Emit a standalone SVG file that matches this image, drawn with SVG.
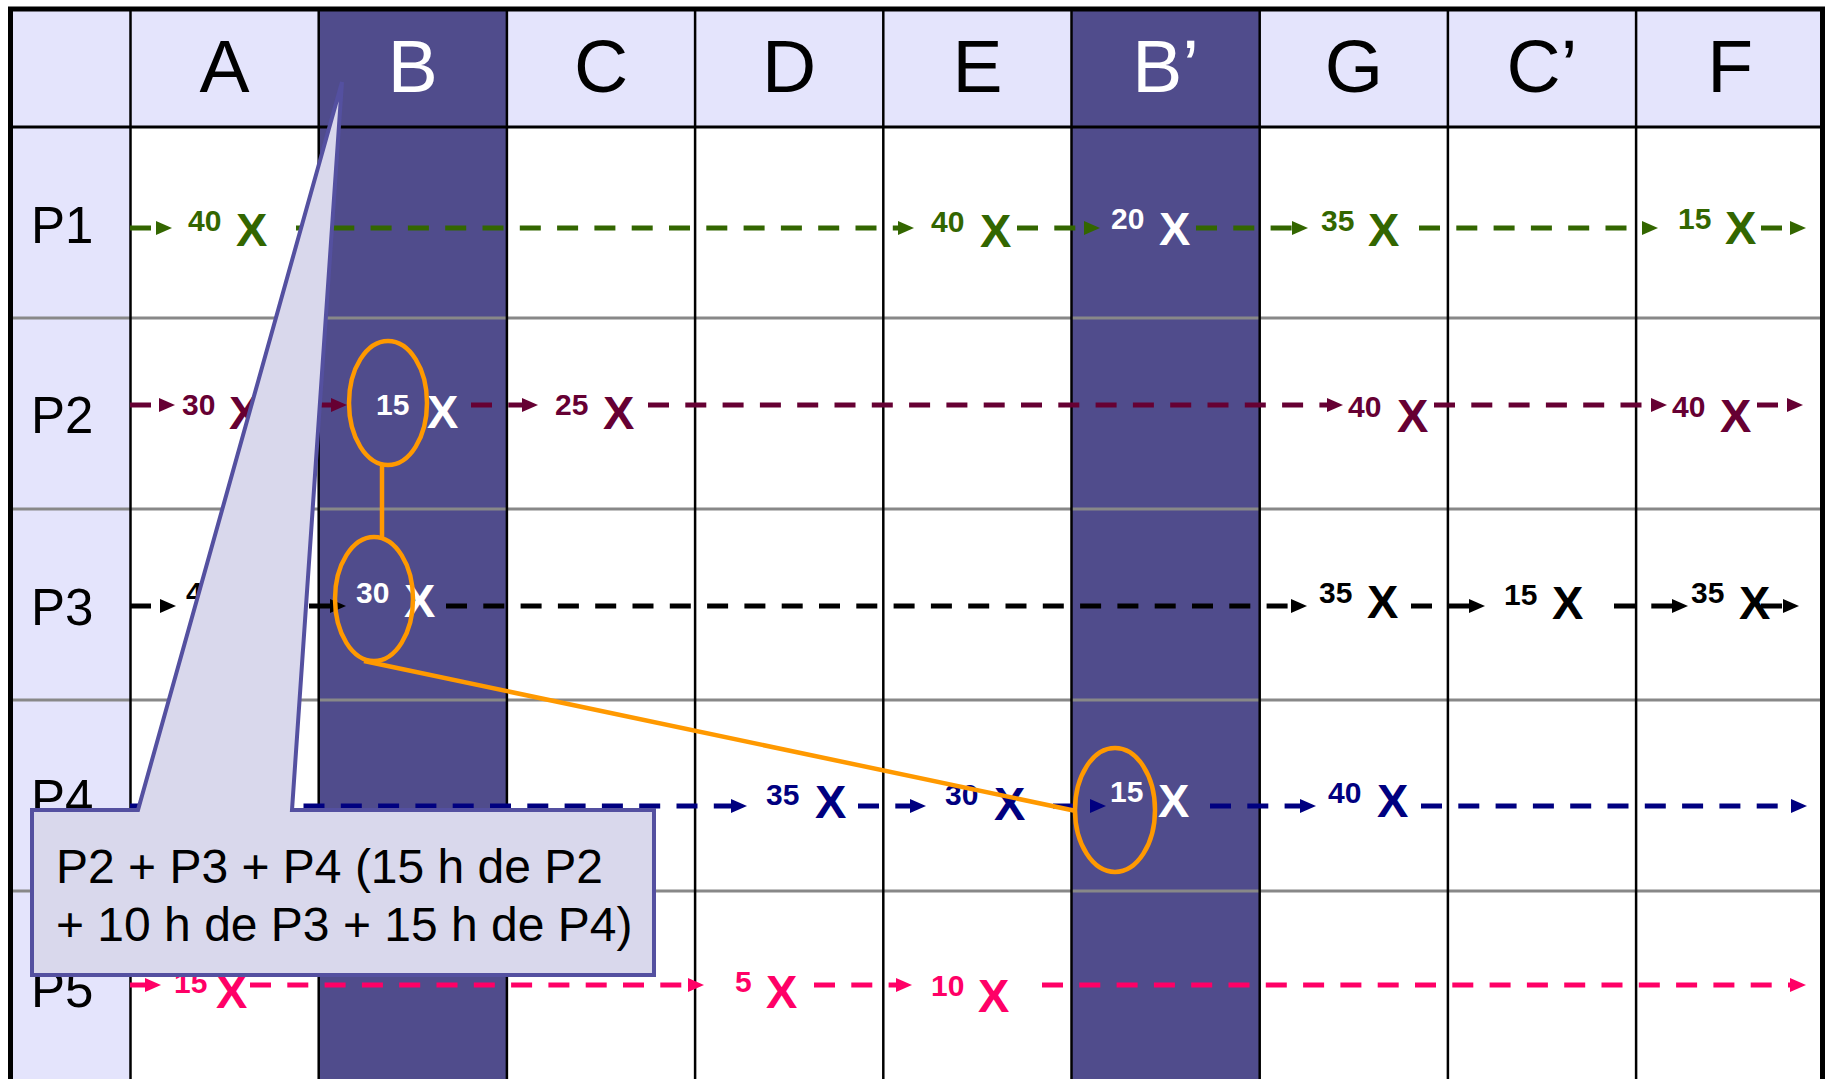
<svg xmlns="http://www.w3.org/2000/svg" width="1825" height="1079" viewBox="0 0 1825 1079">
<style>
.t{font-family:"Liberation Sans",Arial,Helvetica,sans-serif}
.hd{font-size:75px;text-anchor:middle}
.rl{font-size:51px;fill:#000}
.n{font-size:30px;font-weight:bold}
.x{font-size:47px;font-weight:bold}
.vl{stroke:#000;stroke-width:2.5}
.hl{stroke:#888;stroke-width:2.8}
.seg{fill:none;stroke-width:5;stroke-dasharray:21 16.3}
.g{stroke:#336600}.m{stroke:#660033}.k{stroke:#000}.nv{stroke:#000080}.p{stroke:#FF0066}
.fg{fill:#336600}.fm{fill:#660033}.fk{fill:#000}.fn{fill:#000080}.fp{fill:#FF0066}.fw{fill:#fff}
.or{fill:none;stroke:#FF9900;stroke-width:4.5}
.co{fill:#D9D8EC;stroke:#5450A0;stroke-width:4}
.ct{font-size:48px;fill:#000}
</style>
<defs>
<marker id="ag" markerUnits="userSpaceOnUse" markerWidth="16" markerHeight="14" refX="0" refY="7" orient="auto" viewBox="0 0 16 14"><path d="M0,0L16,7L0,14z" fill="#336600"/></marker>
<marker id="am" markerUnits="userSpaceOnUse" markerWidth="16" markerHeight="14" refX="0" refY="7" orient="auto" viewBox="0 0 16 14"><path d="M0,0L16,7L0,14z" fill="#660033"/></marker>
<marker id="ak" markerUnits="userSpaceOnUse" markerWidth="16" markerHeight="14" refX="0" refY="7" orient="auto" viewBox="0 0 16 14"><path d="M0,0L16,7L0,14z" fill="#000"/></marker>
<marker id="an" markerUnits="userSpaceOnUse" markerWidth="16" markerHeight="14" refX="0" refY="7" orient="auto" viewBox="0 0 16 14"><path d="M0,0L16,7L0,14z" fill="#000080"/></marker>
<marker id="ap" markerUnits="userSpaceOnUse" markerWidth="16" markerHeight="14" refX="0" refY="7" orient="auto" viewBox="0 0 16 14"><path d="M0,0L16,7L0,14z" fill="#FF0066"/></marker>
</defs>
<rect width="1825" height="1079" fill="#fff"/>
<g id="grid">
<rect x="10" y="9" width="1815" height="1075" fill="#fff"/>
<rect x="10" y="9" width="1815" height="118" fill="#E4E4FC"/>
<rect x="10" y="9" width="120.5" height="1075" fill="#E4E4FC"/>
<rect x="318.7" y="9" width="188.2" height="1075" fill="#504C8C"/>
<rect x="1071.5" y="9" width="188.2" height="1075" fill="#504C8C"/>
<line class="hl" x1="10" y1="318" x2="1825" y2="318"/>
<line class="hl" x1="10" y1="509" x2="1825" y2="509"/>
<line class="hl" x1="10" y1="700" x2="1825" y2="700"/>
<line class="hl" x1="10" y1="891" x2="1825" y2="891"/>
<line class="vl" x1="130.5" y1="9" x2="130.5" y2="1079"/>
<line class="vl" x1="318.7" y1="9" x2="318.7" y2="1079"/>
<line class="vl" x1="506.9" y1="9" x2="506.9" y2="1079"/>
<line class="vl" x1="695.1" y1="9" x2="695.1" y2="1079"/>
<line class="vl" x1="883.3" y1="9" x2="883.3" y2="1079"/>
<line class="vl" x1="1071.5" y1="9" x2="1071.5" y2="1079"/>
<line class="vl" x1="1259.7" y1="9" x2="1259.7" y2="1079"/>
<line class="vl" x1="1447.9" y1="9" x2="1447.9" y2="1079"/>
<line class="vl" x1="1636.1" y1="9" x2="1636.1" y2="1079"/>
<line x1="10" y1="127" x2="1825" y2="127" stroke="#000" stroke-width="3"/>
<rect x="10.5" y="9" width="1812" height="1080" fill="none" stroke="#000" stroke-width="5"/>
</g>
<g id="headers" class="t hd">
<text x="224.6" y="92" fill="#000">A</text>
<text x="412.8" y="92" fill="#fff">B</text>
<text x="601" y="92" fill="#000">C</text>
<text x="789.2" y="92" fill="#000">D</text>
<text x="977.4" y="92" fill="#000">E</text>
<text x="1165.6" y="92" fill="#fff">B’</text>
<text x="1353.8" y="92" fill="#000">G</text>
<text x="1542" y="92" fill="#000">C’</text>
<text x="1730.2" y="92" fill="#000">F</text>
</g>
<g id="row-labels" class="t rl">
<text x="31" y="243">P1</text>
<text x="31" y="433">P2</text>
<text x="31" y="625">P3</text>
<text x="31" y="816">P4</text>
<text x="31" y="1007">P5</text>
</g>
<g id="connectors">
<line class="seg g" x1="130" y1="228" x2="156" y2="228" marker-end="url(#ag)"/>
<line class="seg g" x1="296" y1="228" x2="898" y2="228" marker-end="url(#ag)"/>
<line class="seg g" x1="1017" y1="228" x2="1084" y2="228" marker-end="url(#ag)"/>
<line class="seg g" x1="1196" y1="228" x2="1292" y2="228" marker-end="url(#ag)"/>
<line class="seg g" x1="1419" y1="228" x2="1642" y2="228" marker-end="url(#ag)"/>
<line class="seg g" x1="1761" y1="228" x2="1790" y2="228" marker-end="url(#ag)"/>
<line class="seg m" x1="130" y1="405" x2="159" y2="405" marker-end="url(#am)"/>
<line class="seg m" x1="310" y1="405" x2="331" y2="405" marker-end="url(#am)"/>
<line class="seg m" x1="471" y1="405" x2="522" y2="405" marker-end="url(#am)"/>
<line class="seg m" x1="648" y1="405" x2="1327" y2="405" marker-end="url(#am)"/>
<line class="seg m" x1="1434" y1="405" x2="1651" y2="405" marker-end="url(#am)"/>
<line class="seg m" x1="1757" y1="405" x2="1787" y2="405" marker-end="url(#am)"/>
<line class="seg k" x1="130" y1="606" x2="160" y2="606" marker-end="url(#ak)"/>
<line class="seg k" x1="309" y1="606" x2="330" y2="606" marker-end="url(#ak)"/>
<line class="seg k" x1="446" y1="606" x2="1291" y2="606" marker-end="url(#ak)"/>
<line class="seg k" x1="1411" y1="606" x2="1469" y2="606" marker-end="url(#ak)"/>
<line class="seg k" x1="1614" y1="606" x2="1672" y2="606" marker-end="url(#ak)"/>
<line class="seg k" x1="1761" y1="606" x2="1783" y2="606" marker-end="url(#ak)"/>
<line class="seg nv" x1="130" y1="806" x2="731" y2="806" stroke-dashoffset="13" marker-end="url(#an)"/>
<line class="seg nv" x1="858" y1="806" x2="910" y2="806" marker-end="url(#an)"/>
<line class="seg nv" x1="1053" y1="806" x2="1090" y2="806" marker-end="url(#an)"/>
<line class="seg nv" x1="1210" y1="806" x2="1300" y2="806" marker-end="url(#an)"/>
<line class="seg nv" x1="1421" y1="806" x2="1791" y2="806" marker-end="url(#an)"/>
<line class="seg p" x1="130" y1="985" x2="145" y2="985" marker-end="url(#ap)"/>
<line class="seg p" x1="250" y1="985" x2="688" y2="985" marker-end="url(#ap)"/>
<line class="seg p" x1="814" y1="985" x2="896" y2="985" marker-end="url(#ap)"/>
<line class="seg p" x1="1042" y1="985" x2="1790" y2="985" marker-end="url(#ap)"/>
</g>
<g id="row-P1" class="t">
<text class="n fg" x="188" y="231">40</text><text class="x fg" x="236" y="246">X</text>
<text class="n fg" x="931" y="232">40</text><text class="x fg" x="980" y="247">X</text>
<text class="n fw" x="1111" y="229">20</text><text class="x fw" x="1159" y="245">X</text>
<text class="n fg" x="1321" y="231">35</text><text class="x fg" x="1368" y="246">X</text>
<text class="n fg" x="1678" y="229">15</text><text class="x fg" x="1725" y="244">X</text>
</g>
<g id="row-P2" class="t">
<text class="n fm" x="182" y="415">30</text><text class="x fm" x="229" y="429">X</text>
<text class="n fw" x="376" y="415">15</text><text class="x fw" x="427" y="428">X</text>
<text class="n fm" x="555" y="415">25</text><text class="x fm" x="603" y="429">X</text>
<text class="n fm" x="1348" y="417">40</text><text class="x fm" x="1397" y="432">X</text>
<text class="n fm" x="1672" y="417">40</text><text class="x fm" x="1720" y="432">X</text>
</g>
<g id="row-P3" class="t">
<text class="n fk" x="186" y="603">40</text>
<text class="n fw" x="356" y="603">30</text><text class="x fw" x="404" y="617">X</text>
<text class="n fk" x="1319" y="603">35</text><text class="x fk" x="1367" y="618">X</text>
<text class="n fk" x="1504" y="605">15</text><text class="x fk" x="1552" y="619">X</text>
<text class="n fk" x="1691" y="603">35</text><text class="x fk" x="1739" y="619">X</text>
</g>
<g id="row-P4" class="t">
<text class="n fn" x="766" y="805">35</text><text class="x fn" x="815" y="818">X</text>
<text class="n fn" x="945" y="805">30</text><text class="x fn" x="994" y="820">X</text>
<text class="n fw" x="1110" y="802">15</text><text class="x fw" x="1158" y="817">X</text>
<text class="n fn" x="1328" y="803">40</text><text class="x fn" x="1377" y="817">X</text>
</g>
<g id="row-P5" class="t">
<text class="n fp" x="174" y="993">15</text><text class="x fp" x="216" y="1008">X</text>
<text class="n fp" x="735" y="992">5</text><text class="x fp" x="766" y="1008">X</text>
<text class="n fp" x="931" y="996">10</text><text class="x fp" x="978" y="1012">X</text>
</g>
<g id="highlight">
<ellipse class="or" cx="388" cy="403" rx="39" ry="62"/>
<ellipse class="or" cx="374" cy="599" rx="39" ry="62"/>
<line class="or" x1="382" y1="465" x2="382" y2="537"/>
<line class="or" x1="364" y1="661" x2="1076" y2="811"/>
<ellipse class="or" cx="1115" cy="810" rx="40" ry="62"/>
</g>
<g id="callout">
<polygon class="co" points="32,810 138,810 342,82 292,810 654,810 654,975 32,975"/>
<text class="t ct" x="56" y="883">P2 + P3 + P4 (15 h de P2</text>
<text class="t ct" x="56" y="941">+ 10 h de P3 + 15 h de P4)</text>
</g>
</svg>
